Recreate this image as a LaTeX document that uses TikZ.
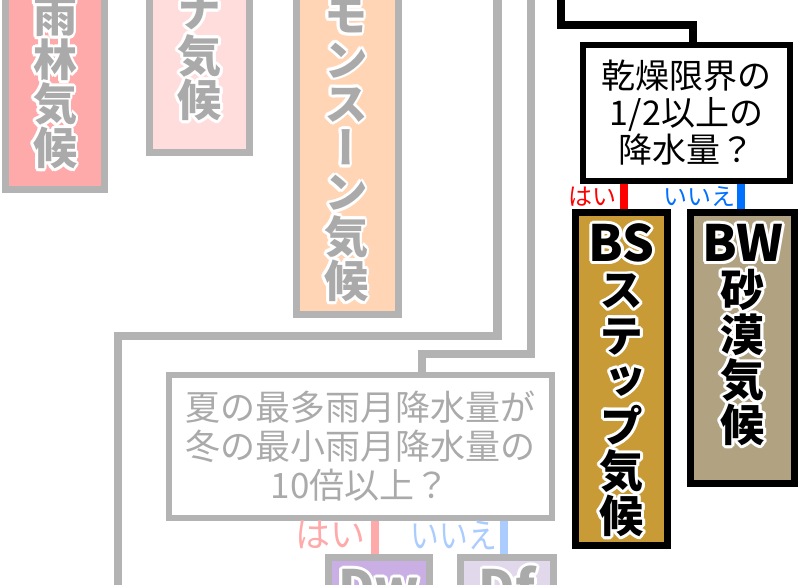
\documentclass[tikz,border=0pt]{standalone}
\usepackage{fontspec}
\newfontfamily\jpr{Noto Sans CJK JP}
\IfFontExistsTF{Noto Sans CJK JP Black}
  {\newfontfamily\jpb{Noto Sans CJK JP Black}[RawFeature=+vert]}
  {\newfontfamily\jpb{Noto Sans CJK JP}[UprightFont={* Bold},RawFeature=+vert]}
\definecolor{lg}{HTML}{B3B3B3}
\definecolor{tg}{HTML}{AAAAAA}
\definecolor{fA}{HTML}{FFAAAA}
\definecolor{fB}{HTML}{FFDDDD}
\definecolor{fC}{HTML}{FFD5B5}
\definecolor{fBS}{HTML}{C99B36}
\definecolor{fBW}{HTML}{B1A282}
\definecolor{fDw}{HTML}{C9AFE3}
\definecolor{fDf}{HTML}{E1D8EC}
\definecolor{yes}{HTML}{FF0000}
\definecolor{no}{HTML}{0070FF}
\definecolor{yesp}{HTML}{FFAAAA}
\definecolor{nop}{HTML}{AACCFF}
\pgfdeclarelayer{background}
\pgfsetlayers{background,main}
\tikzset{
  chr/.style={inner sep=0pt, anchor=center, text height=38.7pt, text depth=5.3pt,
    font=\jpb\fontsize{44}{44}\selectfont},
  rbox/.style={draw, rectangle, line width=7pt, inner sep=0pt},
  qbox/.style={draw, rectangle, line width=6pt, fill=white, align=center, inner sep=0pt},
  cline/.style={line width=8.5pt},
  lbl/.style={inner sep=0pt, font=\jpr\fontsize{24}{24}\selectfont},
  lblb/.style={inner sep=0pt, font=\jpr\fontsize{35}{35}\selectfont},
}
\newcommand\vertcol[6]{%
  \foreach \c [count=\i from 0] in {#6} {%
    \foreach \a in {0,22.5,...,337.5}
      \node[chr,text=white,shift={(\a:2.8)}] at (#2,#3+#4*\i) {\c};
    \node[chr,text=#5] (#1-\i) at (#2,#3+#4*\i) {\c};
  }}
\begin{document}
\begin{tikzpicture}[x=1pt,y=-1pt,line join=miter]
\useasboundingbox (0,0) rectangle (800,584);
\clip (0,0) rectangle (800,584);

% result boxes
\node[rbox, draw=lg, fill=fA, minimum width=99pt, minimum height=209.5pt] (rain) at (55,84.75) {};
\node[rbox, draw=lg, fill=fB, minimum width=100pt, minimum height=172.5pt] (sav) at (199.5,66.25) {};
\node[rbox, draw=lg, fill=fC, minimum width=102pt, minimum height=334.5pt] (mon) at (347.5,147.25) {};
\node[rbox, draw=black, fill=fBS, minimum width=92pt, minimum height=333pt] (bs) at (621.5,379) {};
\node[rbox, draw=black, fill=fBW, minimum width=104pt, minimum height=271pt] (bw) at (742.5,348) {};
\node[rbox, draw=lg, fill=fDw, minimum width=101pt, minimum height=82.5pt] (dw) at (379,598.75) {};
\node[rbox, draw=lg, fill=fDf, minimum width=93pt, minimum height=82.5pt] (df) at (507,598.75) {};

% question boxes
\node[qbox, draw=black, text=black, minimum width=207pt, minimum height=136pt,
  font=\jpr\fontsize{34}{37}\selectfont] (q1) at (686.5,113) {乾燥限界の\\1/2以上の\\降水量？};
\node[qbox, draw=lg, text=tg, minimum width=383pt, minimum height=143pt,
  font=\jpr\fontsize{35}{39}\selectfont] (q2) at (360,446) {夏の最多雨月降水量が\\冬の最小雨月降水量の\\10倍以上？};

% labels
\node[lbl, text=yes] (y1) at (592,197) {はい};
\node[lbl, text=no] (n1) at (699,197) {いいえ};
\node[lblb, text=yesp] (y2) at (330,535) {はい};
\node[lblb, text=nop] (n2) at (454,535) {\scalebox{0.82}[1]{いいえ}};

% vertical texts
\vertcol{ta}{55}{16}{44}{tg}{雨,林,気,候}
\vertcol{tb}{199.5}{11}{44.5}{tg}{ナ,気,候}
\vertcol{tc}{346}{15}{44.3}{tg}{モ,ン,ス,ー,ン,気,候}
\vertcol{tbs}{621.5}{245}{45.2}{black}{{\fontsize{50}{50}\selectfont BS},ス,テ,ッ,プ,気,候}
\vertcol{tbw}{742.5}{245}{45}{black}{{\fontsize{50}{50}\selectfont BW},砂,漠,気,候}
\vertcol{tdw}{379}{590}{45}{tg}{{\fontsize{50}{50}\selectfont Dw}}
\vertcol{tdf}{507}{590}{45}{tg}{{\fontsize{50}{50}\selectfont Df}}

% connectors
\coordinate (b0) at (561,-10);
\coordinate (b1) at (561,25);
\coordinate (b2) at (693,25);
\coordinate (g0) at (497.5,-10);
\coordinate (g1) at (497.5,336);
\coordinate (g2) at (118,336);
\coordinate (g3) at (118,600);
\coordinate (h0) at (531,-10);
\coordinate (h1) at (531,354);
\coordinate (h2) at (422,354);
\coordinate (xr) at (624,0);
\coordinate (xb) at (741,0);
\coordinate (xr2) at (375,0);
\coordinate (xb2) at (504,0);
\begin{pgfonlayer}{background}
\fill[white] (0,0) rectangle (800,584);
\draw[cline, black] (b0) -- (b1) -- (b2) -- (b2 |- q1.north);
\draw[cline, lg] (g0) -- (g1) -- (g2) -- (g3);
\draw[cline, lg] (h0) -- (h1) -- (h2) -- (h2 |- q2.north);
\draw[line width=8pt, yes] (xr |- q1.south) -- (xr |- bs.north);
\draw[line width=8pt, no] (xb |- q1.south) -- (xb |- bw.north);
\draw[line width=8pt, yesp] (xr2 |- q2.south) -- (xr2 |- dw.north);
\draw[line width=8pt, nop] (xb2 |- q2.south) -- (xb2 |- df.north);
\end{pgfonlayer}
\end{tikzpicture}
\end{document}
